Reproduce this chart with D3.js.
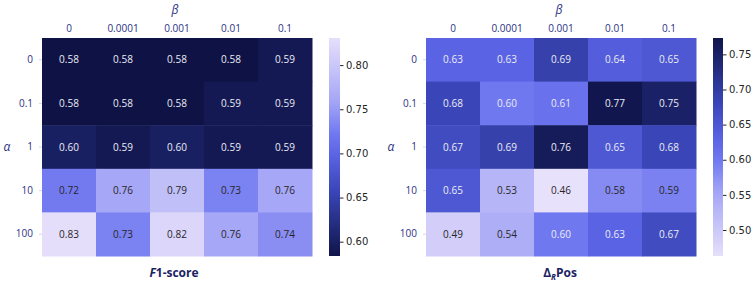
<!DOCTYPE html>
<html>
<head>
<meta charset="utf-8">
<script src="https://cdn.jsdelivr.net/npm/d3@7"></script>
<style>
  body { margin: 0; background: #fff; }
  svg text { font-family: "Open Sans", sans-serif; }
</style>
</head>
<body>
<div id="chart"></div>
<script>
// axis categories
const alphas = ['0', '0.1', '1', '10', '100'];
const betas = ['0', '0.0001', '0.001', '0.01', '0.1'];

// F1-score values (rows = alpha, cols = beta)
const f1Values = [
    [0.58, 0.58, 0.58, 0.58, 0.59],
    [0.58, 0.58, 0.58, 0.59, 0.59],
    [0.60, 0.59, 0.60, 0.59, 0.59],
    [0.724, 0.76, 0.79, 0.73, 0.76],
    [0.83, 0.73, 0.82, 0.76, 0.74]
];
const f1Range = [0.5838, 0.8307];
const f1Ticks = [0.60, 0.65, 0.70, 0.75, 0.80];

// Delta_R Pos values
const posValues = [
    [0.63, 0.63, 0.69, 0.64, 0.65],
    [0.68, 0.60, 0.61, 0.77, 0.75],
    [0.67, 0.69, 0.76, 0.65, 0.68],
    [0.65, 0.53, 0.46, 0.58, 0.59],
    [0.49, 0.54, 0.60, 0.63, 0.67]
];
const posRange = [0.463, 0.7733];
const posTicks = [0.50, 0.55, 0.60, 0.65, 0.70, 0.75];

const W = 754, H = 281;
const svg = d3.select('#chart').append('svg')
    .attr('width', W)
    .attr('height', H);

// dark navy -> blue -> lavender
const cmap = d3.scaleLinear()
    .domain([0, 0.3, 0.46, 0.56, 0.71, 1])
    .range(['#10154a', '#3a46b8', '#5a63e3', '#7078f0', '#a5a6f6', '#e6dffb'])
    .interpolate(d3.interpolateRgb);

const tickColor = '#2b3183';
const mapTop = 38, mapBottom = 256;

function drawPanel(opts) {
    const { values, range, ticks, reverse, x0, cbx, cbw } = opts;
    const g = svg.append('g');

    const x = d3.scaleBand().domain(betas).range([x0, x0 + 270]);
    const y = d3.scaleBand().domain(alphas).range([mapTop, mapBottom]);

    // lightness parameter: 0 = dark, 1 = light
    const tOf = v => {
        const t = (v - range[0]) / (range[1] - range[0]);
        return reverse ? 1 - t : t;
    };

    const cells = [];
    values.forEach((row, i) => row.forEach((v, j) => cells.push({ a: alphas[i], b: betas[j], v })));

    g.selectAll('rect.cell')
        .data(cells)
        .join('rect')
        .attr('class', 'cell')
        .attr('x', d => x(d.b))
        .attr('y', d => y(d.a))
        .attr('width', x.bandwidth() + 0.5)
        .attr('height', y.bandwidth() + 0.5)
        .attr('fill', d => cmap(tOf(d.v)));

    g.selectAll('text.ann')
        .data(cells)
        .join('text')
        .attr('class', 'ann')
        .attr('x', d => x(d.b) + x.bandwidth() / 2)
        .attr('y', d => y(d.a) + y.bandwidth() / 2)
        .attr('dy', '0.35em')
        .attr('text-anchor', 'middle')
        .style('font-size', '10px')
        .attr('fill', d => tOf(d.v) > 0.56 ? '#262626' : '#ececf4')
        .text(d => d3.format('.2f')(d.v));

    // column labels (top)
    const xAxis = g.append('g')
        .attr('transform', `translate(0, ${mapTop})`)
        .call(d3.axisTop(x).tickSize(0).tickPadding(6));
    xAxis.select('.domain').remove();
    xAxis.selectAll('text')
        .style('font-size', '10px')
        .style('font-family', '"Open Sans", sans-serif')
        .attr('fill', tickColor);

    // row labels (left)
    const yAxis = g.append('g')
        .attr('transform', `translate(${x0}, 0)`)
        .call(d3.axisLeft(y).tickSize(3).tickPadding(6));
    yAxis.select('.domain').remove();
    yAxis.selectAll('line').attr('stroke', '#d6d8ea');
    yAxis.selectAll('text')
        .style('font-size', '10px')
        .style('font-family', '"Open Sans", sans-serif')
        .attr('fill', tickColor);

    // beta / alpha labels
    g.append('text')
        .attr('x', x0 + 133)
        .attr('y', 14)
        .attr('text-anchor', 'middle')
        .style('font-size', '12px')
        .style('font-style', 'italic')
        .attr('fill', tickColor)
        .text('β');

    g.append('text')
        .attr('x', x0 - 35)
        .attr('y', 151)
        .attr('text-anchor', 'middle')
        .style('font-size', '12px')
        .style('font-style', 'italic')
        .attr('fill', tickColor)
        .text('α');

    // colorbar
    const cy = d3.scaleLinear().domain(range).range([mapBottom, mapTop]);
    const gradId = 'grad' + x0;
    const grad = svg.append('defs').append('linearGradient')
        .attr('id', gradId)
        .attr('x1', 0).attr('y1', 1).attr('x2', 0).attr('y2', 0);
    d3.range(0, 1.0001, 0.05).forEach(s => {
        const v = range[0] + s * (range[1] - range[0]);
        grad.append('stop')
            .attr('offset', s)
            .attr('stop-color', cmap(tOf(v)));
    });
    g.append('rect')
        .attr('x', cbx)
        .attr('y', mapTop)
        .attr('width', cbw)
        .attr('height', mapBottom - mapTop)
        .attr('fill', `url(#${gradId})`);

    const cAxis = g.append('g')
        .attr('transform', `translate(${cbx + cbw}, 0)`)
        .call(d3.axisRight(cy).tickValues(ticks).tickFormat(d3.format('.2f')).tickSize(3.5).tickPadding(2.5));
    cAxis.select('.domain').remove();
    cAxis.selectAll('line').attr('stroke', '#262626');
    cAxis.selectAll('text')
        .style('font-size', '10px')
        .style('font-family', '"DejaVu Sans", sans-serif')
        .attr('fill', '#262626');

    return g;
}

const left = drawPanel({ values: f1Values, range: f1Range, ticks: f1Ticks, reverse: false, x0: 42, cbx: 329, cbw: 11 });
const right = drawPanel({ values: posValues, range: posRange, ticks: posTicks, reverse: true, x0: 426, cbx: 713, cbw: 10 });

// panel titles
const t1 = left.append('text')
    .attr('x', 174)
    .attr('y', 277)
    .attr('text-anchor', 'middle')
    .style('font-size', '12px')
    .style('font-weight', 'bold')
    .attr('fill', '#1c2363');
t1.append('tspan').style('font-style', 'italic').text('F');
t1.append('tspan').text('1-score');

const t2 = right.append('text')
    .attr('x', 560)
    .attr('y', 277)
    .attr('text-anchor', 'middle')
    .style('font-size', '12px')
    .style('font-weight', 'bold')
    .attr('fill', '#1c2363');
t2.append('tspan').text('Δ');
t2.append('tspan').style('font-style', 'italic').style('font-size', '8px').attr('dy', 3).text('R');
t2.append('tspan').attr('dy', -3).text('Pos');
</script>
</body>
</html>
